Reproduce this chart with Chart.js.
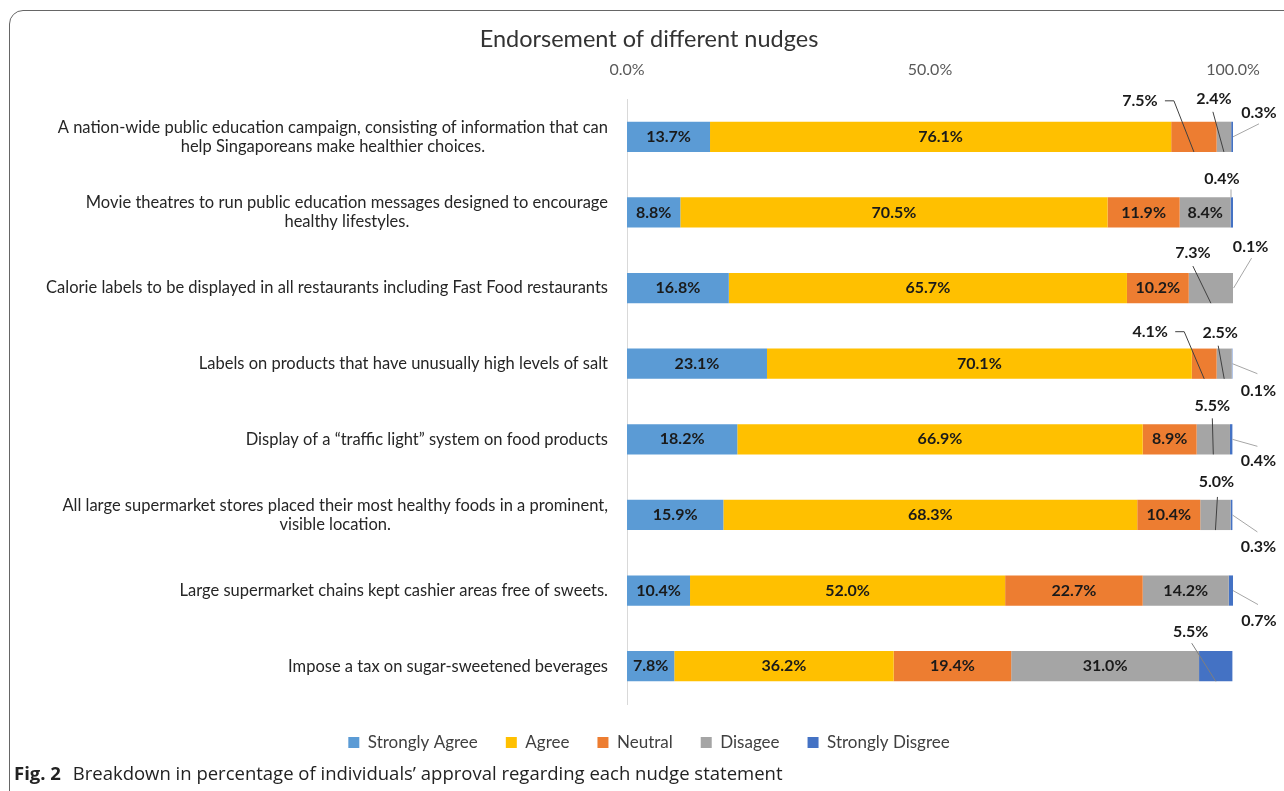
<!DOCTYPE html>
<html>
<head>
<meta charset="utf-8">
<script src="https://cdn.jsdelivr.net/npm/chart.js@4.4.1/dist/chart.umd.min.js"></script>
<style>
  html, body { margin: 0; padding: 0; background: #fff; }
  body { width: 1284px; height: 791px; position: relative; overflow: hidden; }
  #frame {
    position: absolute; left: 9px; top: 10px; width: 1330px; height: 810px;
    border: 1.5px solid #666; border-radius: 14px; box-sizing: border-box;
  }
  #chartBox { position: absolute; left: 0; top: 0; width: 1298px; height: 761px; }
  #caption {
    position: absolute; left: 14px; top: 760px;
    font-family: "Open Sans", sans-serif; font-size: 18.5px; color: #222;
    white-space: nowrap; line-height: 26px;
  }
  #caption b { margin-right: 7px; }
</style>
</head>
<body>
<div id="frame"></div>
<div id="chartBox"><canvas id="nudgeChart" width="1298" height="761"></canvas></div>
<div id="caption"><b>Fig. 2</b> Breakdown in percentage of individuals’ approval regarding each nudge statement</div>

<script>
// Statements (already wrapped the way the figure shows them)
const statements = [
    ['A nation-wide public education campaign, consisting of information that can', 'help Singaporeans make healthier choices.'],
    ['Movie theatres to run public education messages designed to encourage', 'healthy lifestyles.'],
    ['Calorie labels to be displayed in all restaurants including Fast Food restaurants'],
    ['Labels on products that have unusually high levels of salt'],
    ['Display of a \u201Ctraffic light\u201D system on food products'],
    ['All large supermarket stores placed their most healthy foods in a prominent,', 'visible location.'],
    ['Large supermarket chains kept cashier areas free of sweets.'],
    ['Impose a tax on sugar-sweetened beverages']
];

const seriesNames = ['Strongly Agree', 'Agree', 'Neutral', 'Disagee', 'Strongly Disgree'];

// percentages per statement
const stronglyAgree    = [13.7, 8.8, 16.8, 23.1, 18.2, 15.9, 10.4, 7.8];
const agree            = [76.1, 70.5, 65.7, 70.1, 66.9, 68.3, 52.0, 36.2];
const neutral          = [7.5, 11.9, 10.2, 4.1, 8.9, 10.4, 22.7, 19.4];
const disagree         = [2.4, 8.4, 7.3, 2.5, 5.5, 5.0, 14.2, 31.0];
const stronglyDisagree = [0.3, 0.4, 0.1, 0.1, 0.4, 0.3, 0.7, 5.5];

const axisTicks = [0, 50, 100];

const seriesColors = ['#5B9BD5', '#FFC000', '#ED7D31', '#A5A5A5', '#4472C4'];

// small segments get their label outside with a leader line
// dx/dy: label centre from the reference point (segment middle or bar end)
// sx/sy: leader start from label centre, ex: optional horizontal elbow length
const callouts = [
    { row: 0, ds: 2, ref: 'mid', dx: -54, dy: -36, sx: 25, sy: 0, ex: 9, to: 'bottom', color: '#404040' },
    { row: 0, ds: 3, ref: 'mid', dx: -10, dy: -38, sx: -1, sy: 13, to: 'bottom', color: '#404040' },
    { row: 0, ds: 4, ref: 'end', dx: 26, dy: -24, sx: 0, sy: 11, to: 'end', color: '#a6a6a6' },
    { row: 1, ds: 4, ref: 'end', dx: -11, dy: -34, sx: 9, sy: 11, to: 'endTop', color: '#a6a6a6' },
    { row: 2, ds: 3, ref: 'mid', dx: -18, dy: -35, sx: 0, sy: 13, to: 'bottom', color: '#404040' },
    { row: 2, ds: 4, ref: 'end', dx: 17, dy: -41, sx: 1, sy: 11, to: 'end', color: '#a6a6a6' },
    { row: 3, ds: 2, ref: 'mid', dx: -54, dy: -32, sx: 25, sy: 0, ex: 9, to: 'bottom', color: '#404040' },
    { row: 3, ds: 3, ref: 'mid', dx: -4, dy: -31, sx: -2, sy: 13, to: 'bottom', color: '#404040' },
    { row: 3, ds: 4, ref: 'end', dx: 26, dy: 27, sx: -1, sy: -17, to: 'end', color: '#a6a6a6' },
    { row: 4, ds: 3, ref: 'mid', dx: -1, dy: -33, sx: 0, sy: 12, to: 'bottom', color: '#404040' },
    { row: 4, ds: 4, ref: 'end', dx: 26, dy: 22, sx: -1, sy: -15, to: 'end', color: '#a6a6a6' },
    { row: 5, ds: 3, ref: 'mid', dx: 1, dy: -33, sx: 1, sy: 15, to: 'bottom', color: '#404040' },
    { row: 5, ds: 4, ref: 'end', dx: 26, dy: 32, sx: -1, sy: -15, to: 'end', color: '#a6a6a6' },
    { row: 6, ds: 4, ref: 'end', dx: 26, dy: 30, sx: -1, sy: -16, to: 'end', color: '#a6a6a6' },
    { row: 7, ds: 4, ref: 'mid', dx: -25, dy: -34, sx: 1, sy: 11, to: 'bottom', color: '#7f7f7f' }
];

const FONT = 'Lato, "Open Sans", sans-serif';

// category labels on the left: block right-aligned, lines centred within the block
const statementLabels = {
    id: 'statementLabels',
    afterDraw(chart) {
        const ctx = chart.ctx;
        const yScale = chart.scales.y;
        const right = chart.chartArea.left - 19;
        ctx.save();
        ctx.font = '16.5px ' + FONT;
        ctx.fillStyle = '#262626';
        ctx.textAlign = 'center';
        ctx.textBaseline = 'middle';
        statements.forEach((lines, i) => {
            const cy = yScale.getPixelForValue(i);
            const widest = Math.max(...lines.map(l => ctx.measureText(l).width));
            const cx = right - widest / 2;
            const lh = 19;
            lines.forEach((line, k) => {
                ctx.fillText(line, cx, cy + (k - (lines.length - 1) / 2) * lh);
            });
        });
        ctx.restore();
    }
};

// value labels, inside the segments or as call-outs
const valueLabels = {
    id: 'valueLabels',
    afterDatasetsDraw(chart) {
        const ctx = chart.ctx;
        ctx.save();
        ctx.font = 'bold 16px ' + FONT;
        ctx.fillStyle = '#1a1a1a';
        ctx.textAlign = 'center';
        ctx.textBaseline = 'middle';
        chart.data.datasets.forEach((ds, di) => {
            const meta = chart.getDatasetMeta(di);
            meta.data.forEach((bar, ri) => {
                const p = bar.getProps(['x', 'y', 'base', 'height'], true);
                const text = ds.data[ri].toFixed(1) + '%';
                const mid = (p.x + p.base) / 2;
                const co = callouts.find(c => c.row === ri && c.ds === di);
                if (!co) {
                    ctx.fillText(text, mid, p.y);
                    return;
                }
                const endX = Math.max(p.x, p.base);
                const refX = co.ref === 'mid' ? mid : endX;
                const lx = refX + co.dx;
                const ly = p.y + co.dy;
                let tx, ty;
                if (co.to === 'bottom') { tx = mid; ty = p.y + p.height / 2; }
                else if (co.to === 'endTop') { tx = endX - 2; ty = p.y - p.height / 2; }
                else { tx = endX; ty = p.y; }
                ctx.strokeStyle = co.color;
                ctx.lineWidth = 1;
                ctx.beginPath();
                ctx.moveTo(lx + co.sx, ly + co.sy);
                if (co.ex) ctx.lineTo(lx + co.sx + co.ex, ly + co.sy);
                ctx.lineTo(tx, ty);
                ctx.stroke();
                ctx.fillText(text, lx, ly);
            });
        });
        ctx.restore();
    }
};

const seriesData = [stronglyAgree, agree, neutral, disagree, stronglyDisagree];

const chart = new Chart(document.getElementById('nudgeChart'), {
    type: 'bar',
    data: {
        labels: statements.map(s => s.join(' ')),
        datasets: seriesNames.map((name, i) => ({
            label: name,
            data: seriesData[i],
            backgroundColor: seriesColors[i],
            borderWidth: 0,
            categoryPercentage: 0.4,
            barPercentage: 1
        }))
    },
    options: {
        indexAxis: 'y',
        responsive: false,
        animation: false,
        devicePixelRatio: 1,
        layout: { padding: 0 },
        scales: {
            x: {
                type: 'linear',
                position: 'top',
                stacked: true,
                min: 0,
                max: 100,
                afterBuildTicks: s => { s.ticks = axisTicks.map(v => ({ value: v })); },
                ticks: {
                    padding: 12,
                    maxRotation: 0,
                    callback: v => v.toFixed(1) + '%',
                    font: { family: FONT, size: 16 },
                    color: '#595959'
                },
                grid: { display: false },
                border: { display: false },
                afterFit: s => { s.height = 45.8; }
            },
            x2: {
                type: 'linear',
                position: 'bottom',
                display: true,
                ticks: { display: false },
                grid: { display: false },
                border: { display: false },
                afterFit: s => { s.height = 2; }
            },
            y: {
                stacked: true,
                ticks: { display: false },
                grid: { display: false, drawTicks: false },
                border: { display: true, color: '#d9d9d9', width: 1 },
                afterFit: s => { s.width = 627; }
            },
            y2: {
                type: 'linear',
                position: 'right',
                display: true,
                ticks: { display: false },
                grid: { display: false },
                border: { display: false },
                afterFit: s => { s.width = 65; }
            }
        },
        plugins: {
            title: {
                display: true,
                text: 'Endorsement of different nudges',
                font: { family: FONT, size: 23.5, weight: 'normal' },
                color: '#333333',
                padding: { top: 25, bottom: 0 }
            },
            legend: {
                position: 'bottom',
                labels: {
                    boxWidth: 11,
                    boxHeight: 11,
                    padding: 28,
                    font: { family: FONT, size: 17 },
                    color: '#404040'
                }
            },
            tooltip: { enabled: false }
        }
    },
    plugins: [statementLabels, valueLabels]
});
</script>
</body>
</html>
